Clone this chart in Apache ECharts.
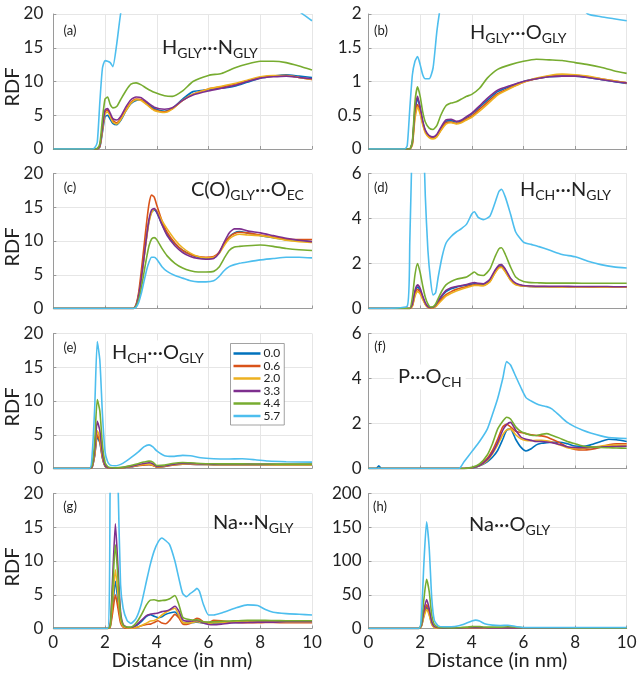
<!DOCTYPE html>
<html><head><meta charset="utf-8">
<script src="https://cdn.jsdelivr.net/npm/echarts@6/dist/echarts.min.js"></script>
<style>html,body{margin:0;padding:0;background:#fff}#c{width:640px;height:678px}</style>
</head><body><div id="c"></div>
<script>
const NAMES = ['0.0','0.6','2.0','3.3','4.4','5.7'];
const COLORS = ['#0072BD','#D95319','#EDB120','#7E2F8E','#77AC30','#4DBEEE'];
const X_TICKS = [0,2,4,6,8,10];

// (a) H_GLY...N_GLY
const xA = [0,1.5,1.6,1.7,1.8,1.9,2.0,2.1,2.2,2.3,2.45,2.6,2.8,3.0,3.2,3.4,3.6,3.9,4.3,4.6,5.0,5.4,6.0,6.5,7.0,7.5,8.0,8.5,9.0,9.5,10];
const a00 = [0,0,0,0,0.3,2.5,4.8,5.0,4.4,3.8,3.6,4.2,5.6,6.7,7.2,7.3,6.8,6.0,5.6,6.0,7.4,8.5,8.8,9.0,9.3,9.9,10.5,10.8,11.0,10.8,10.6];
const a06 = [0,0,0,0,0.4,3.0,5.5,5.8,5.0,4.2,3.9,4.5,5.8,6.9,7.4,7.3,6.7,5.8,5.5,6.0,7.2,8.1,8.9,9.2,9.6,10.1,10.6,10.8,10.9,10.6,10.3];
const a20 = [0,0,0,0,0.4,2.8,5.2,5.5,4.8,4.0,3.7,4.3,5.6,6.8,7.3,7.2,6.6,5.7,5.4,5.9,7.2,8.1,8.9,9.3,9.7,10.2,10.7,10.9,10.9,10.6,10.3];
const a33 = [0,0,0,0,0.5,3.2,5.8,6.0,5.3,4.5,4.3,4.8,6.2,7.3,7.7,7.6,7.0,6.2,5.9,6.1,7.2,8.0,8.6,9.0,9.4,10.0,10.5,10.7,10.8,10.6,10.4];
const a44 = [0,0,0,0.1,0.8,4.5,7.4,7.7,6.6,6.1,6.3,7.3,8.6,9.6,9.8,9.5,9.0,8.4,7.9,7.8,8.6,10.0,10.9,11.2,12.0,12.6,13.0,13.0,12.8,12.3,11.7];
const a57 = [0,0,0.2,1.0,7.0,12.0,13.1,13.0,12.8,12.2,15.5,20,24,27,30,32,33,34,34,34,33,32,31,30,29,28,26,24,22,20.4,19.0];

// (b) H_GLY...O_GLY
const xB = [0,1.4,1.5,1.6,1.7,1.8,1.9,2.0,2.1,2.2,2.35,2.5,2.65,2.8,3.0,3.2,3.4,3.6,3.8,4.0,4.3,4.6,5.0,5.5,6.0,6.5,7.0,7.5,8.0,8.5,9.0,9.5,10];
const b00 = [0,0,0,0,0.1,0.55,0.75,0.6,0.4,0.27,0.19,0.17,0.2,0.3,0.41,0.42,0.40,0.42,0.47,0.52,0.62,0.72,0.85,0.93,1.0,1.04,1.07,1.08,1.08,1.06,1.03,1.0,0.97];
const b06 = [0,0,0,0,0.08,0.5,0.66,0.55,0.38,0.26,0.18,0.16,0.19,0.28,0.39,0.40,0.38,0.40,0.45,0.49,0.59,0.69,0.82,0.91,0.99,1.04,1.08,1.10,1.09,1.07,1.04,1.01,0.98];
const b20 = [0,0,0,0,0.06,0.45,0.62,0.52,0.36,0.24,0.17,0.15,0.18,0.27,0.37,0.39,0.37,0.39,0.43,0.47,0.56,0.66,0.80,0.90,0.99,1.05,1.09,1.11,1.10,1.08,1.04,1.01,0.98];
const b33 = [0,0,0,0,0.1,0.6,0.78,0.62,0.42,0.28,0.2,0.18,0.22,0.32,0.43,0.44,0.41,0.43,0.48,0.53,0.64,0.75,0.87,0.94,1.0,1.04,1.07,1.08,1.08,1.06,1.03,1.0,0.98];
const b44 = [0,0,0,0,0.12,0.7,0.92,0.78,0.55,0.4,0.31,0.29,0.35,0.5,0.64,0.68,0.70,0.74,0.78,0.81,0.9,1.05,1.18,1.25,1.3,1.33,1.32,1.31,1.28,1.25,1.21,1.16,1.12];
const b57 = [0,0,0.05,0.6,1.1,1.3,1.37,1.25,1.1,1.04,1.04,1.2,1.75,2.15,2.6,2.8,2.9,3,3,3,3,3,3,2.9,2.8,2.7,2.6,2.4,2.2,2.0,1.96,1.93,1.9];

// (c) C(O)_GLY...O_EC
const xC = [0,3.0,3.1,3.2,3.3,3.4,3.5,3.6,3.7,3.8,3.9,4.0,4.2,4.4,4.7,5.0,5.3,5.6,5.9,6.2,6.4,6.6,6.8,7.0,7.2,7.5,8.0,8.5,9.0,9.5,10];
const c00 = [0,0,0,0.5,2.0,4.5,7.5,10.5,13.0,14.3,14.6,14.2,12.5,11.0,9.6,8.6,8.0,7.6,7.4,7.5,8.2,9.5,10.6,11.2,11.4,11.2,10.8,10.5,10.2,10.1,9.9];
const c06 = [0,0,0,0.6,2.4,5.5,9.0,12.5,15.5,16.8,16.5,15.3,13.0,11.3,9.7,8.6,8.0,7.7,7.6,7.7,8.3,9.6,10.6,11.1,11.3,11.2,10.9,10.6,10.3,10.2,10.2];
const c20 = [0,0,0,0.4,1.8,4.2,7.2,10.2,12.8,14.2,14.7,14.5,13.0,11.8,10.2,9.0,8.2,7.7,7.5,7.6,8.1,9.3,10.3,10.8,11.0,10.9,10.8,10.5,10.1,9.9,9.8];
const c33 = [0,0,0,0.4,1.9,4.4,7.4,10.5,13.2,14.6,14.8,14.3,12.4,10.8,9.3,8.3,7.7,7.4,7.3,7.4,8.2,9.8,11.2,11.8,11.8,11.5,11.2,10.8,10.4,10.1,9.9];
const c44 = [0,0,0,0.3,1.3,3.0,5.2,7.4,9.3,10.3,10.5,10.2,8.9,7.8,6.7,6.0,5.6,5.4,5.4,5.5,6.1,7.4,8.6,9.1,9.2,9.3,9.4,9.2,8.9,8.7,8.6];
const c57 = [0,0,0,0.2,0.9,2.2,3.9,5.6,6.9,7.6,7.6,7.3,6.2,5.5,4.9,4.5,4.1,3.95,3.95,4.1,4.7,5.6,6.2,6.5,6.7,6.9,7.2,7.4,7.6,7.6,7.5];

// (d) H_CH...N_GLY
const xD = [0,1.5,1.6,1.7,1.8,1.9,2.0,2.1,2.2,2.3,2.4,2.5,2.6,2.7,2.85,3.0,3.2,3.4,3.6,3.8,4.0,4.1,4.25,4.45,4.7,4.9,5.05,5.15,5.3,5.5,5.7,6.0,6.3,6.6,7.0,7.5,8.0,8.5,9.0,9.5,10];
const d00 = [0,0,0,0.15,0.7,0.95,0.8,0.5,0.22,0.07,0.03,0.04,0.12,0.3,0.55,0.75,0.88,0.95,1.0,1.04,1.08,1.1,1.08,1.06,1.25,1.65,1.88,1.9,1.7,1.3,1.1,1.0,0.98,0.97,0.97,0.97,0.97,0.96,0.96,0.96,0.96];
const d06 = [0,0,0,0.12,0.62,0.85,0.72,0.45,0.2,0.06,0.03,0.03,0.1,0.25,0.45,0.62,0.75,0.85,0.92,0.98,1.03,1.05,1.04,1.03,1.2,1.6,1.83,1.85,1.65,1.28,1.08,1.0,0.98,0.98,0.97,0.97,0.97,0.96,0.96,0.96,0.96];
const d20 = [0,0,0,0.1,0.55,0.75,0.65,0.4,0.18,0.05,0.02,0.03,0.08,0.2,0.38,0.55,0.68,0.78,0.86,0.93,1.0,1.02,1.02,1.01,1.18,1.58,1.8,1.82,1.62,1.26,1.06,1.0,0.98,0.97,0.97,0.96,0.96,0.96,0.95,0.95,0.95];
const d33 = [0,0,0,0.2,0.8,1.05,0.9,0.55,0.25,0.08,0.04,0.05,0.15,0.35,0.6,0.8,0.92,0.98,1.02,1.07,1.13,1.15,1.12,1.1,1.3,1.7,1.93,1.95,1.75,1.35,1.13,1.02,1.0,0.99,0.99,0.99,0.98,0.98,0.98,0.97,0.97];
const d44 = [0,0,0,0.5,1.5,2.0,1.6,1.0,0.5,0.2,0.07,0.08,0.2,0.45,0.8,1.05,1.2,1.3,1.35,1.4,1.55,1.62,1.5,1.47,1.75,2.3,2.65,2.7,2.4,1.85,1.4,1.2,1.15,1.14,1.13,1.13,1.13,1.12,1.12,1.12,1.12];
const d57 = [0,0.1,3.0,8,14,16,14,9,5.0,2.6,1.3,0.6,0.7,1.4,2.3,2.9,3.2,3.4,3.55,3.75,4.2,4.3,4.05,3.95,4.1,4.7,5.2,5.3,4.95,4.2,3.4,2.95,2.85,2.75,2.6,2.4,2.3,2.1,1.95,1.85,1.8];

// (e) H_CH...O_GLY
const xE = [0,1.4,1.5,1.6,1.7,1.8,1.9,2.0,2.1,2.2,2.4,2.7,3.0,3.3,3.5,3.7,3.85,4.0,4.3,4.6,5.0,5.3,5.7,6.2,6.7,7.3,7.8,8.3,9.0,10];
const e00 = [0,0,0.2,1.9,4.7,3.8,1.5,0.3,0.1,0.05,0.03,0.1,0.25,0.45,0.55,0.6,0.5,0.22,0.32,0.52,0.63,0.63,0.6,0.58,0.58,0.58,0.57,0.57,0.56,0.56];
const e06 = [0,0,0.2,2.0,5.0,4.0,1.6,0.35,0.1,0.05,0.03,0.1,0.25,0.45,0.5,0.55,0.45,0.2,0.3,0.5,0.62,0.62,0.6,0.58,0.58,0.58,0.57,0.57,0.56,0.56];
const e20 = [0,0,0.25,2.2,5.6,4.5,1.8,0.4,0.12,0.06,0.04,0.12,0.3,0.5,0.6,0.65,0.5,0.25,0.35,0.55,0.65,0.65,0.62,0.6,0.6,0.6,0.6,0.58,0.58,0.58];
const e33 = [0,0,0.3,2.8,7.0,5.6,2.2,0.5,0.15,0.08,0.05,0.15,0.35,0.6,0.75,0.85,0.7,0.3,0.4,0.6,0.75,0.72,0.68,0.65,0.65,0.65,0.64,0.63,0.62,0.62];
const e44 = [0,0,0.5,4,10.2,8.5,3.5,0.9,0.3,0.15,0.1,0.2,0.45,0.75,0.95,1.1,0.95,0.45,0.5,0.75,0.9,0.85,0.75,0.7,0.68,0.68,0.67,0.66,0.65,0.65];
const e57 = [0,0,2,9,18.8,16,8,2.5,1.0,0.5,0.4,0.8,1.6,2.5,3.2,3.5,3.2,2.6,1.9,1.8,1.95,1.9,1.6,1.45,1.4,1.45,1.3,1.1,1.0,0.95];

// (f) P...O_CH
const xF = [0,0.3,0.4,0.5,3.5,3.7,4.0,4.3,4.6,4.8,5.0,5.2,5.35,5.5,5.7,5.9,6.1,6.3,6.5,6.7,6.9,7.1,7.4,7.7,8.0,8.3,8.6,9.0,9.3,9.6,10];
const f00 = [0,0,0.12,0,0,0,0.02,0.12,0.3,0.5,0.8,1.3,1.7,1.75,1.3,0.95,0.78,0.88,1.05,1.12,1.15,1.17,1.17,1.1,1.0,0.98,1.05,1.2,1.3,1.28,1.2];
const f06 = [0,0,0,0,0,0,0.03,0.15,0.45,0.8,1.3,1.85,1.97,1.85,1.65,1.6,1.55,1.5,1.47,1.45,1.4,1.3,1.15,0.95,0.85,0.82,0.85,0.95,1.05,1.1,1.1];
const f20 = [0,0,0,0,0,0,0.03,0.12,0.35,0.65,1.05,1.5,1.72,1.75,1.5,1.32,1.25,1.24,1.25,1.25,1.23,1.18,1.05,0.92,0.88,0.88,0.93,1.0,1.03,1.04,1.03];
const f33 = [0,0,0,0,0,0,0.03,0.13,0.4,0.7,1.15,1.7,1.95,2.05,1.7,1.4,1.3,1.25,1.2,1.2,1.18,1.15,1.07,0.97,0.93,0.92,0.93,0.95,0.97,0.98,0.99];
const f44 = [0,0,0,0,0,0,0.05,0.2,0.6,1.1,1.75,2.1,2.28,2.2,1.85,1.65,1.55,1.48,1.47,1.52,1.55,1.48,1.35,1.2,1.1,1.0,0.96,0.93,0.92,0.91,0.9];
const f57 = [0,0,0,0,0,0.3,0.75,1.2,1.75,2.4,3.1,4.0,4.75,4.6,4.1,3.6,3.15,3.0,2.88,2.8,2.75,2.65,2.35,2.05,1.85,1.7,1.58,1.45,1.38,1.35,1.33];

// (g) Na...N_GLY
const xG = [0,2.1,2.2,2.3,2.4,2.5,2.6,2.7,2.85,3.0,3.2,3.4,3.6,3.75,3.9,4.05,4.2,4.35,4.5,4.7,4.85,5.0,5.15,5.3,5.45,5.55,5.65,5.8,6.0,6.2,6.5,6.8,7.1,7.5,7.9,8.2,8.5,9.0,9.5,10];
const g00 = [0,0,0.3,3.5,7.0,4.0,1.2,0.3,0.1,0.1,0.4,1.0,1.8,2.05,1.8,1.6,1.75,2.1,2.3,2.45,1.8,0.9,0.8,0.85,0.9,0.95,0.9,0.8,0.75,0.8,0.85,0.9,0.9,0.95,0.95,0.95,0.95,0.95,0.95,0.95];
const g06 = [0,0,0.2,2.5,5.0,3.0,0.8,0.2,0.05,0.05,0.15,0.4,0.6,0.65,0.9,1.15,0.8,0.7,1.2,2.1,1.6,0.7,0.6,0.75,1.3,1.5,1.4,1.0,0.9,1.2,1.15,1.0,0.9,0.85,0.85,0.9,0.9,0.85,0.85,0.85];
const g20 = [0,0,0.3,4.5,8.7,5.0,1.4,0.3,0.1,0.05,0.15,0.4,0.8,1.1,1.2,1.5,2.0,2.4,2.7,3.0,2.0,0.9,0.8,0.85,0.95,1.0,0.95,0.85,0.8,0.85,0.9,0.95,1.0,1.0,1.0,1.0,1.0,0.95,0.95,0.95];
const g33 = [0,0,0.5,8,15.5,9,2.5,0.6,0.2,0.15,0.5,1.2,1.9,2.1,2.2,2.3,2.5,2.6,2.8,3.3,2.6,1.3,1.1,1.1,1.15,1.2,1.1,0.8,0.6,0.55,0.65,0.8,0.85,0.9,0.95,0.95,0.95,1.0,1.0,1.0];
const g44 = [0,0,0.4,6.5,12.4,7.5,2.0,0.5,0.2,0.2,0.8,2.0,3.5,4.2,4.25,4.1,4.15,4.2,4.4,4.9,3.6,1.7,1.4,1.3,1.25,1.3,1.2,1.0,0.95,1.0,1.05,1.1,1.15,1.2,1.2,1.2,1.18,1.15,1.15,1.15];
const g57 = [0,0,22,38,40,22,6.5,3.0,1.2,0.75,1.5,3.6,7.0,9.5,11.5,12.8,13.4,13.0,12.4,10.0,7.5,5.2,4.7,5.2,5.6,5.95,5.5,3.6,2.0,2.0,2.3,2.7,3.1,3.5,3.4,2.8,2.4,2.2,2.1,2.0];

// (h) Na...O_GLY
const xH = [0,1.95,2.05,2.15,2.25,2.35,2.45,2.55,2.7,2.9,3.2,3.5,3.8,4.0,4.15,4.3,4.5,4.8,5.1,5.4,5.7,6.0,6.5,7.0,8.0,9.0,10];
const h00 = [0,0,4,20,32,22,7,2,0.7,0.3,0.3,0.5,0.8,1,1,1,0.9,0.8,0.8,0.9,0.8,0.8,0.8,0.8,0.8,0.8,0.8];
const h06 = [0,0,4,22,35,25,8,2,0.8,0.4,0.3,0.5,0.8,1,1,1,0.9,0.8,0.8,0.9,0.8,0.8,0.8,0.8,0.8,0.8,0.8];
const h20 = [0,0,3,18,28,20,6,1.5,0.6,0.3,0.3,0.5,0.7,0.9,0.9,0.9,0.8,0.8,0.8,0.8,0.8,0.8,0.8,0.8,0.8,0.8,0.8];
const h33 = [0,0,5,28,43,30,10,3,1,0.5,0.4,0.6,1,1.2,1.3,1.2,1.0,0.9,0.9,1.0,0.9,0.8,0.8,0.8,0.8,0.8,0.8];
const h44 = [0,0,8,45,73,55,20,6,2,1,0.8,1.2,2,2.8,3,2.8,2.3,2,2,2.5,2,1.2,1.1,1.1,1.0,1.0,1.0];
const h57 = [0,0,20,100,158,120,45,12,4,2.5,2.5,4,8,11,12.4,11,7,5,4.5,4.8,3,1.5,1.5,1.5,1.5,1.5,1.4];

const PANELS = [
  {x:xA, ys:[a00,a06,a20,a33,a44,a57], max:20, iv:5, col:0, row:0},
  {x:xB, ys:[b00,b06,b20,b33,b44,b57], max:2, iv:0.5, col:1, row:0},
  {x:xC, ys:[c00,c06,c20,c33,c44,c57], max:20, iv:5, col:0, row:1},
  {x:xD, ys:[d00,d06,d20,d33,d44,d57], max:6, iv:2, col:1, row:1},
  {x:xE, ys:[e00,e06,e20,e33,e44,e57], max:20, iv:5, col:0, row:2},
  {x:xF, ys:[f00,f06,f20,f33,f44,f57], max:6, iv:2, col:1, row:2},
  {x:xG, ys:[g00,g06,g20,g33,g44,g57], max:20, iv:5, col:0, row:3},
  {x:xH, ys:[h00,h06,h20,h33,h44,h57], max:200, iv:50, col:1, row:3}
];

const FONT = 'Lato, "DejaVu Sans", sans-serif';
const TOPS = [14, 173.5, 333.5, 493.5];
const LEFTS = [53.3, 368.5];
const WIDTHS = [258.7, 258.2];
const H = 135;

const grid = [], xAxis = [], yAxis = [], series = [];
PANELS.forEach((p, i) => {
  grid.push({left: LEFTS[p.col], top: TOPS[p.row], width: WIDTHS[p.col], height: H, containLabel: false});
  xAxis.push({
    type: 'value', gridIndex: i, min: 0, max: 10, interval: 2,
    axisLine: {show: true, lineStyle: {color: '#9a9a9a', width: 1}},
    axisTick: {show: true, inside: true, length: 3, lineStyle: {color: '#9a9a9a'}},
    axisLabel: {show: p.row === 3, fontSize: 17, color: '#222', fontFamily: FONT, margin: 6},
    splitLine: {show: true, lineStyle: {color: '#e6e6e6', width: 1}}
  });
  yAxis.push({
    type: 'value', gridIndex: i, min: 0, max: p.max, interval: p.iv,
    axisLine: {show: true, lineStyle: {color: '#9a9a9a', width: 1}},
    axisTick: {show: true, inside: true, length: 3, lineStyle: {color: '#9a9a9a'}},
    axisLabel: {fontSize: 17, color: '#222', fontFamily: FONT, margin: p.col === 0 ? 10 : 7},
    splitLine: {show: true, lineStyle: {color: '#e6e6e6', width: 1}}
  });
  p.ys.forEach((ys, k) => {
    series.push({
      type: 'line', name: NAMES[k], xAxisIndex: i, yAxisIndex: i,
      data: p.x.map((x, j) => [x, ys[j]]),
      showSymbol: false, symbol: 'none', smooth: 0.2, clip: true,
      lineStyle: {color: COLORS[k], width: 1.6},
      itemStyle: {color: COLORS[k]},
      z: 2 + k
    });
  });
});

const rich = {
  m: {fontSize: 20, fontFamily: FONT, fill: '#222'},
  s: {fontSize: 14, fontFamily: FONT, fill: '#222', padding: [11, 0, 0, 0]}
};
function lab(x, y, text, bg) {
  const st = {x, y, text, rich, fill: '#222', fontFamily: FONT, fontSize: 20, align: 'left', verticalAlign: 'middle'};
  if (bg) { st.backgroundColor = '#fff'; st.padding = [0, 4, 0, 4]; }
  return {type: 'text', z: 100, style: st};
}
function plab(x, y, t) {
  return {type: 'text', z: 100, style: {x, y, text: t, fill: '#222', fontFamily: FONT, fontSize: 13, align: 'center', verticalAlign: 'middle'}};
}
const graphic = [
  lab(162, 48, '{m|H}{s|GLY}{m|···N}{s|GLY}'),
  lab(470, 33, '{m|H}{s|GLY}{m|···O}{s|GLY}'),
  lab(191, 190, '{m|C(O)}{s|GLY}{m|···O}{s|EC}'),
  lab(520, 190, '{m|H}{s|CH}{m|···N}{s|GLY}'),
  lab(108, 353, '{m|H}{s|CH}{m|···O}{s|GLY}', true),
  lab(394, 377, '{m|P···O}{s|CH}', true),
  lab(213, 523, '{m|Na···N}{s|GLY}'),
  lab(469, 525, '{m|Na···O}{s|GLY}'),
  plab(70, 31, '(a)'), plab(381, 31, '(b)'),
  plab(70, 188, '(c)'), plab(381, 188, '(d)'),
  plab(70, 348, '(e)'), plab(380, 347, '(f)'),
  plab(70, 507, '(g)'), plab(380, 507, '(h)')
];
[87, 247, 407, 567].forEach(y => {
  graphic.push({type: 'text', z: 100, rotation: Math.PI / 2, x: 13, y: y,
    style: {x: 0, y: 0, text: 'RDF', fill: '#222', fontFamily: FONT, fontSize: 20, align: 'center', verticalAlign: 'middle'}});
});
graphic.push({type: 'text', z: 100, style: {x: 182, y: 661, text: 'Distance (in nm)', fill: '#222', fontFamily: FONT, fontSize: 20, align: 'center', verticalAlign: 'middle'}});
graphic.push({type: 'text', z: 100, style: {x: 497, y: 661, text: 'Distance (in nm)', fill: '#222', fontFamily: FONT, fontSize: 20, align: 'center', verticalAlign: 'middle'}});

const chart = echarts.init(document.getElementById('c'), null, {renderer: 'canvas'});
chart.setOption({
  animation: false,
  backgroundColor: '#fff',
  grid, xAxis, yAxis, series, graphic,
  legend: {
    data: NAMES, orient: 'vertical', left: 230.5, top: 343.5,
    icon: 'rect', itemWidth: 27, itemHeight: 2.5, itemGap: 0.5,
    backgroundColor: '#fff', borderColor: '#8a8a8a', borderWidth: 0.8, borderRadius: 0,
    padding: [4, 4, 3, 3], selectedMode: false, z: 50,
    textStyle: {fontSize: 12, color: '#222', fontFamily: FONT, lineHeight: 12, padding: [0, 0, 0, -2]}
  }
});
</script></body></html>
